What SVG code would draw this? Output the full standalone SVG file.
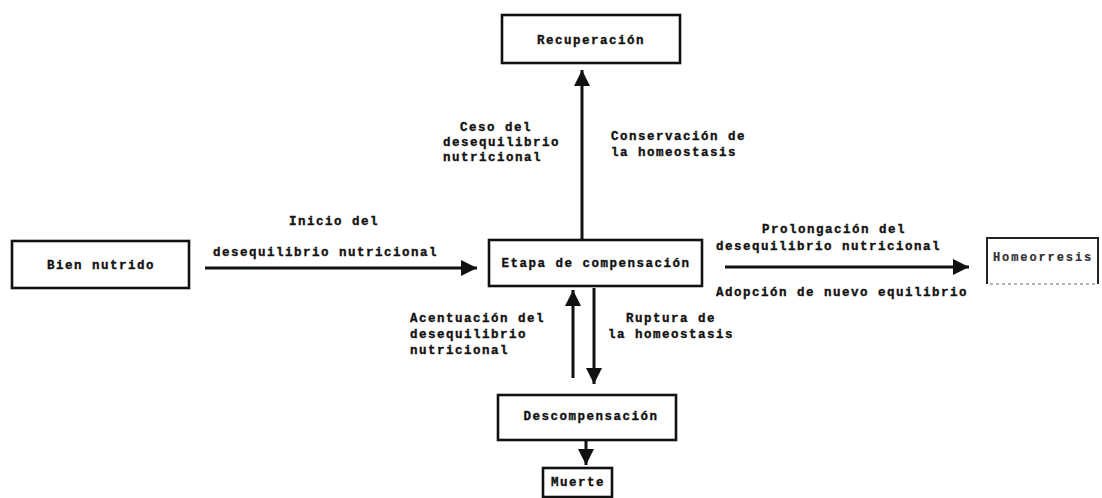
<svg xmlns="http://www.w3.org/2000/svg" width="1102" height="498" viewBox="0 0 1102 498">
<defs>
<style>
.box{fill:#fff;stroke:#111;stroke-width:2.6}
.t{font-family:"Liberation Mono","DejaVu Sans Mono",monospace;font-weight:bold;font-size:12.5px;letter-spacing:1.5px;fill:#111;stroke:#111;stroke-width:0.35}
.m{text-anchor:middle}
.c{fill:none;stroke:#111;stroke-width:3}
</style>
<marker id="ah" markerUnits="userSpaceOnUse" markerWidth="18" markerHeight="18" refX="16" refY="8" orient="auto">
<path d="M0,0 L16,8 L0,16 z" fill="#111"/>
</marker>
</defs>
<rect width="1102" height="498" fill="#fff"/>
<g id="connectors">
<line class="c" x1="205" y1="268" x2="477" y2="268" marker-end="url(#ah)"/>
<line class="c" x1="582" y1="240" x2="582" y2="70" marker-end="url(#ah)"/>
<line class="c" x1="725" y1="267" x2="969" y2="267" marker-end="url(#ah)"/>
<line class="c" x1="594" y1="288" x2="594" y2="384" marker-end="url(#ah)"/>
<line class="c" x1="573" y1="378" x2="573" y2="290" marker-end="url(#ah)"/>
<line class="c" x1="586" y1="440" x2="586" y2="465" marker-end="url(#ah)"/>
</g>
<g id="labels">
<text class="t" x="289" y="225">Inicio del</text>
<text class="t" x="213" y="256">desequilibrio nutricional</text>
<text class="t" x="460" y="131">Ceso del</text>
<text class="t" x="443" y="146">desequilibrio</text>
<text class="t" x="443" y="161">nutricional</text>
<text class="t" x="611" y="140">Conservación de</text>
<text class="t" x="611" y="156">la homeostasis</text>
<text class="t" x="762" y="233">Prolongación del</text>
<text class="t" x="716" y="250">desequilibrio nutricional</text>
<text class="t" x="716" y="296">Adopción de nuevo equilibrio</text>
<text class="t" x="410" y="322">Acentuación del</text>
<text class="t" x="410" y="338">desequilibrio</text>
<text class="t" x="410" y="354">nutricional</text>
<text class="t" x="626" y="322">Ruptura de</text>
<text class="t" x="608" y="338">la homeostasis</text>
</g>
<g id="recuperacion">
<rect class="box" x="502" y="15" width="178" height="48"/>
<text class="t m" x="591" y="44">Recuperación</text>
</g>
<g id="bien-nutrido">
<rect class="box" x="12" y="241" width="177" height="47"/>
<text class="t m" x="101" y="269">Bien nutrido</text>
</g>
<g id="etapa-compensacion">
<rect class="box" x="489" y="240" width="213" height="46"/>
<text class="t m" x="596" y="267">Etapa de compensación</text>
</g>
<g id="homeorresis">
<path d="M987,284 L987,238 L1098,238 L1098,284" fill="none" stroke="#222" stroke-width="2"/>
<line x1="990" y1="284" x2="1098" y2="284" stroke="#999" stroke-width="1.5" stroke-dasharray="3,3"/>
<text class="t" x="993" y="261" style="font-size:12px;letter-spacing:1.9px;fill:#333;stroke:#333;stroke-width:0.2">Homeorresis</text>
</g>
<g id="descompensacion">
<rect class="box" x="498" y="395" width="178" height="45"/>
<text class="t m" x="591" y="420">Descompensación</text>
</g>
<g id="muerte">
<rect class="box" x="543" y="468" width="69" height="29"/>
<text class="t m" x="578" y="486">Muerte</text>
</g>
</svg>
